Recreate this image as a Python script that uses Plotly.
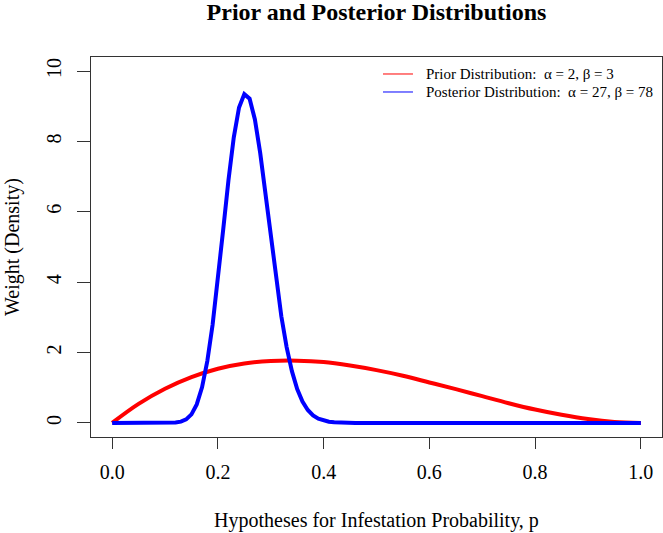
import plotly.graph_objects as go

# Prior Beta(2,3) density, read at 0.05 steps
prior_p = [0.00, 0.05, 0.10, 0.15, 0.20, 0.25, 0.30, 0.35, 0.40, 0.45, 0.50,
           0.55, 0.60, 0.65, 0.70, 0.75, 0.80, 0.85, 0.90, 0.95, 1.00]
prior_w = [0.0, 0.54, 0.97, 1.30, 1.54, 1.69, 1.76, 1.77, 1.73, 1.63, 1.50,
           1.34, 1.15, 0.96, 0.76, 0.56, 0.38, 0.23, 0.11, 0.03, 0.0]

# Posterior Beta(27,78) density
post_p = [0.00, 0.05, 0.10, 0.11, 0.12, 0.13, 0.14, 0.15, 0.16, 0.17, 0.18, 0.19,
          0.20, 0.21, 0.22, 0.23, 0.24, 0.25, 0.26, 0.27, 0.28, 0.29, 0.30,
          0.31, 0.32, 0.33, 0.34, 0.35, 0.36, 0.37, 0.38, 0.39, 0.40, 0.41,
          0.42, 0.43, 0.44, 0.45, 0.46, 0.50, 0.60, 0.70, 0.80, 0.90, 1.00]
post_w = [0.0, 0.0, 0.0006, 0.0027, 0.011, 0.036, 0.100, 0.244, 0.526, 1.012, 1.759, 2.788,
          4.065, 5.488, 6.897, 8.111, 8.965, 9.345, 9.216, 8.624, 7.675, 6.511, 5.273,
          4.085, 3.030, 2.155, 1.471, 0.965, 0.608, 0.369, 0.215, 0.121, 0.065, 0.034,
          0.017, 0.008, 0.004, 0.002, 0.001, 0.0, 0.0, 0.0, 0.0, 0.0, 0.0]

x_ticks = [0.0, 0.2, 0.4, 0.6, 0.8, 1.0]
x_tick_labels = ["0.0", "0.2", "0.4", "0.6", "0.8", "1.0"]
y_ticks = [0, 2, 4, 6, 8, 10]

legend_labels = ["Prior Distribution:\u00a0 \u03b1 = 2, \u03b2 = 3",
                 "Posterior Distribution:\u00a0 \u03b1 = 27, \u03b2 = 78"]

RED = "#ff0000"
BLUE = "#0000ff"
legend_colors = [RED, BLUE]
FONT = "Liberation Serif, Times New Roman, serif"
AXC = "#333333"

fig = go.Figure()
fig.add_trace(go.Scatter(x=prior_p, y=prior_w, mode="lines",
                         line=dict(color=RED, width=4, shape="spline"),
                         showlegend=False, hoverinfo="skip"))
fig.add_trace(go.Scatter(x=post_p, y=post_w, mode="lines",
                         line=dict(color=BLUE, width=4),
                         showlegend=False, hoverinfo="skip"))

# manual legend (R style, no box) in paper coordinates
leg_y = [0.9553, 0.9079]
for lbl, col, ly in zip(legend_labels, legend_colors, leg_y):
    fig.add_shape(type="line", xref="paper", yref="paper",
                  x0=0.5114, x1=0.5639, y0=ly, y1=ly,
                  line=dict(color=col, width=1))
    fig.add_annotation(xref="paper", yref="paper", x=0.583, y=ly,
                       xanchor="left", yanchor="middle", showarrow=False,
                       text=lbl, font=dict(family=FONT, size=15, color="black"))

fig.update_layout(
    width=663, height=533,
    margin=dict(l=91, r=1, t=57, b=96),
    paper_bgcolor="white", plot_bgcolor="white",
    font=dict(family=FONT, color="black", size=20),
    showlegend=False,
    title=dict(text="<b>Prior and Posterior Distributions</b>",
               x=0.5, xref="paper", xanchor="center",
               y=0.978, yanchor="middle",
               font=dict(family=FONT, size=24, color="black")),
    xaxis=dict(range=[-0.04, 1.04], tickmode="array", tickvals=x_ticks,
               ticktext=x_tick_labels, ticks="outside", ticklen=11,
               tickwidth=1, tickcolor=AXC, showline=True, linecolor=AXC,
               linewidth=1, mirror=True, showgrid=False, zeroline=False,
               tickfont=dict(size=20), ticklabelstandoff=6,
               title=dict(text="Hypotheses for Infestation Probability, p",
                          font=dict(size=20), standoff=30)),
    yaxis=dict(range=[-0.4, 10.4], tickmode="array", tickvals=y_ticks,
               ticks="outside", ticklen=13, tickwidth=1, tickcolor=AXC,
               showline=True, linecolor=AXC, linewidth=1, mirror=True,
               showgrid=False, zeroline=False, tickangle=-90,
               tickfont=dict(size=20), ticklabelstandoff=8,
               title=dict(text="Weight (Density)", font=dict(size=20),
                          standoff=18)),
)

fig.write_html("out.html",
               config={"displayModeBar": False},
               post_script="document.body.style.margin='0';"
                           "document.body.style.overflow='hidden';")
